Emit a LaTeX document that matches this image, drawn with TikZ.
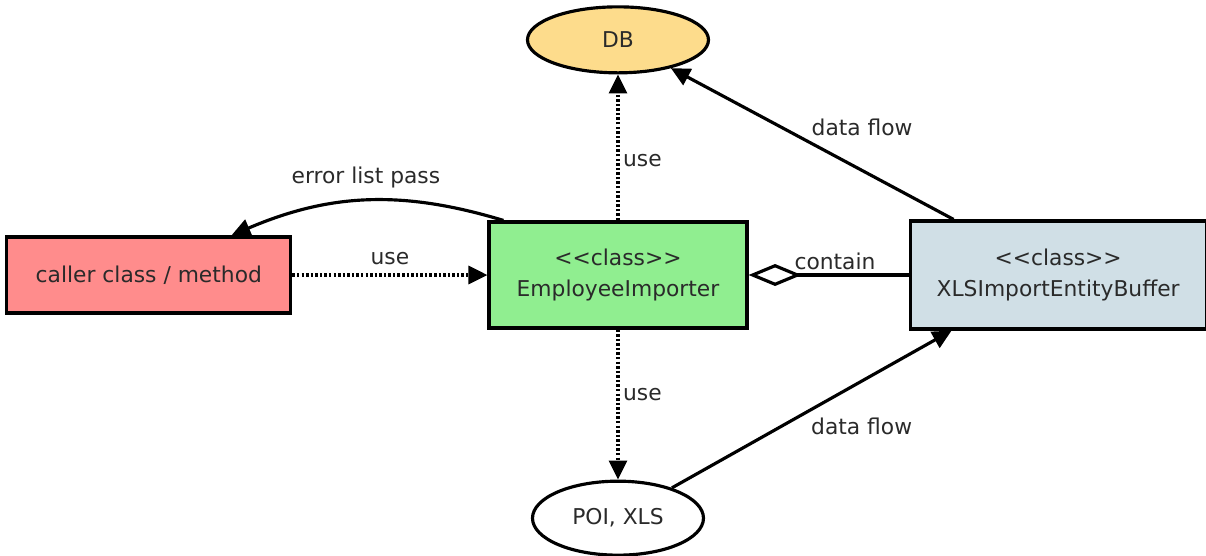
\documentclass[tikz,border=0pt]{standalone}
\usepackage{fontspec}
\setmainfont{DejaVu Sans}[Ligatures=TeXOff]
\usepackage{xcolor}
\definecolor{callerred}{HTML}{FF8C8C}
\definecolor{classgreen}{HTML}{90EE90}
\definecolor{bufferblue}{HTML}{D0DFE6}
\definecolor{dbgold}{HTML}{FDDC8C}
\definecolor{inkgray}{HTML}{2A2A2A}
\usetikzlibrary{shapes.geometric, arrows.meta, positioning}
\tikzset{
  ubox/.style ={rectangle, draw=black, line width=1.8pt, text=inkgray, align=center,
                inner sep=4pt, font=\fontsize{12.4}{17.6}\selectfont},
  uell/.style ={ellipse, draw=black, line width=1.8pt, text=inkgray, align=center,
                inner sep=2pt, font=\fontsize{12.4}{15}\selectfont},
  usearr/.style={-{Triangle[length=3.8mm, width=3.6mm]}, line width=1.8pt, dash pattern=on 1.4pt off 1.2pt},
  flowarr/.style={-{Triangle[length=3.8mm, width=3.6mm]}, line width=1.8pt},
  aggarr/.style={-{Diamond[open, length=10.6mm, width=4.4mm]}, line width=1.8pt},
  ulbl/.style ={font=\fontsize{12.4}{15}\selectfont, text=inkgray, inner sep=2pt},
}
\begin{document}
\begin{tikzpicture}
  \useasboundingbox (-12.36,5.5) rectangle (11.76,-5.6);
  \node[ubox, fill=classgreen, minimum width=5.16cm, minimum height=2.12cm] (emp) at (0,0) {<<class>>\\EmployeeImporter};
  \node[ubox, fill=callerred, minimum width=5.68cm, minimum height=1.52cm, left=3.9cm of emp] (caller) {caller class / method};
  \node[ubox, fill=bufferblue, minimum width=5.92cm, minimum height=2.16cm, right=3.2cm of emp] (buffer) {<<class>>\\XLSImportEntityBuffer};
  \node[uell, fill=dbgold, minimum width=3.62cm, minimum height=1.32cm, above=2.92cm of emp] (db) {DB};
  \node[uell, fill=white, minimum width=3.42cm, minimum height=1.48cm, below=3.0cm of emp] (poi) {POI, XLS};
  \draw[usearr] (emp) -- node[ulbl, right, pos=0.41] {use} (db);
  \draw[usearr] (emp) -- node[ulbl, right, pos=0.43] {use} (poi);
  \draw[usearr] (caller) -- node[ulbl, above, yshift=0.1cm] {use} (emp);
  \draw[flowarr] ([xshift=0.32cm]emp.north west) to[bend right=20] node[ulbl, above, yshift=0.15cm] {error list pass} ([xshift=-1.22cm]caller.north east);
  \draw[aggarr] (buffer.west) -- node[ulbl, above, pos=0.46] {contain} (emp.east);
  \draw[flowarr] ([xshift=0.9cm]buffer.north west) -- node[ulbl, above right, pos=0.52] {data flow} (db);
  \draw[flowarr] (poi) -- node[ulbl, below right, pos=0.48] {data flow} ([xshift=0.86cm]buffer.south west);
\end{tikzpicture}
\end{document}
